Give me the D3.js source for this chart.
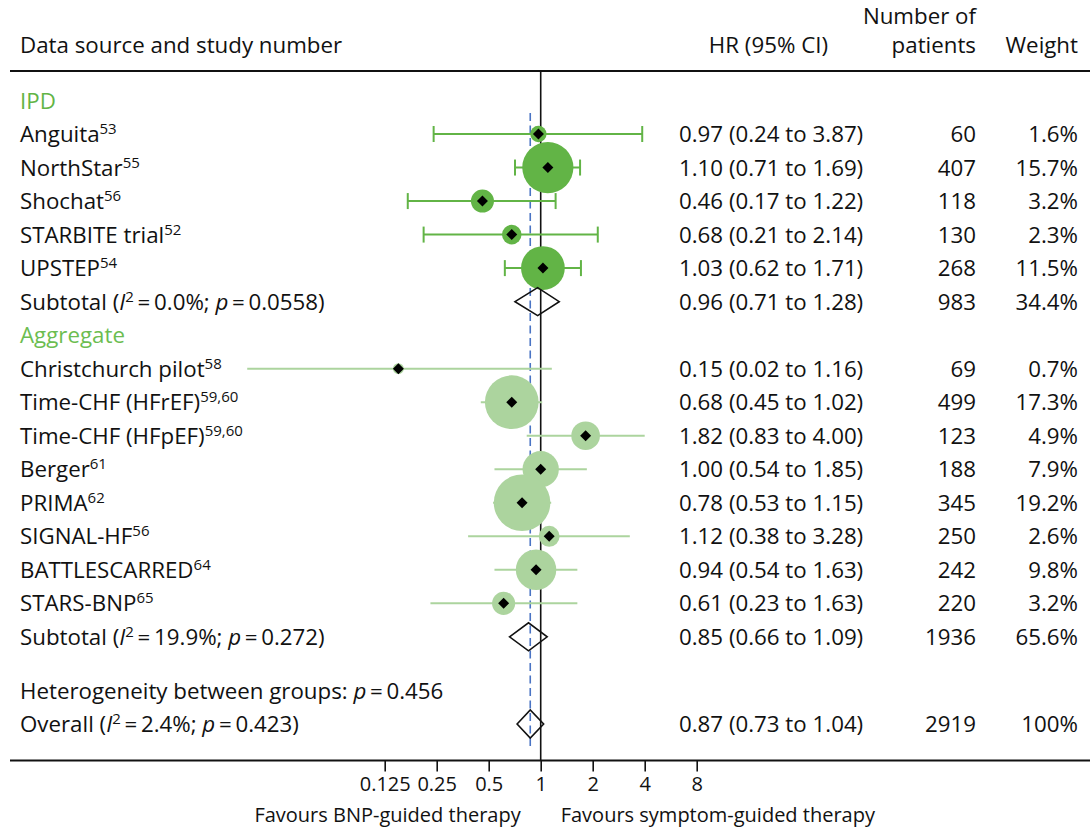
<!DOCTYPE html>
<html>
<head>
<meta charset="utf-8">
<script src="https://cdn.jsdelivr.net/npm/d3@7"></script>
<style>
  html, body { margin: 0; padding: 0; background: #fff; }
  svg text { font-family: "Open Sans", "Noto Sans", sans-serif; fill: #111; }
</style>
</head>
<body>
<svg id="chart" width="1090" height="832"></svg>
<script>
// ---- data ----
const groups = ["IPD", "Aggregate"];
const studyNames = ["Anguita", "NorthStar", "Shochat", "STARBITE trial", "UPSTEP",
  "Christchurch pilot", "Time-CHF (HFrEF)", "Time-CHF (HFpEF)", "Berger", "PRIMA",
  "SIGNAL-HF", "BATTLESCARRED", "STARS-BNP"];
const studyRefs = ["53", "55", "56", "52", "54", "58", "59,60", "59,60", "61", "62", "56", "64", "65"];
const studyGroup = [0, 0, 0, 0, 0, 1, 1, 1, 1, 1, 1, 1, 1];
const hr = [0.97, 1.10, 0.46, 0.68, 1.03, 0.15, 0.68, 1.82, 1.00, 0.78, 1.12, 0.94, 0.61];
const ciLow = [0.24, 0.71, 0.17, 0.21, 0.62, 0.02, 0.45, 0.83, 0.54, 0.53, 0.38, 0.54, 0.23];
const ciHigh = [3.87, 1.69, 1.22, 2.14, 1.71, 1.16, 1.02, 4.00, 1.85, 1.15, 3.28, 1.63, 1.63];
const patients = [60, 407, 118, 130, 268, 69, 499, 123, 188, 345, 250, 242, 220];
const weights = [1.6, 15.7, 3.2, 2.3, 11.5, 0.7, 17.3, 4.9, 7.9, 19.2, 2.6, 9.8, 3.2];

const subtotalI2 = ["0.0", "19.9"];
const subtotalP = ["0.0558", "0.272"];
const subtotalHr = [0.96, 0.85];
const subtotalLow = [0.71, 0.66];
const subtotalHigh = [1.28, 1.09];
const subtotalN = [983, 1936];
const subtotalW = [34.4, 65.6];

const heterogeneityP = "0.456";
const overallI2 = "2.4";
const overallP = "0.423";
const overallHr = 0.87, overallLow = 0.73, overallHigh = 1.04;
const overallN = 2919, overallW = 100;

const tickValues = [0.125, 0.25, 0.5, 1, 2, 4, 8];
const tickLabels = ["0.125", "0.25", "0.5", "1", "2", "4", "8"];

// ---- layout ----
const W = 1090;
const FS = 22.3, FS_SUP = 15, SUP_DY = 8;
const svg = d3.select("#chart");
const colMark = ["#62b446", "#acd49e"];
const colHead = ["#62b446", "#6cbd50"];
const fmt2 = d3.format(".2f");
const THIN = "\u2009";

// row list in reading order; slot = vertical position in row units
const rows = [];
let slot = 0;
groups.forEach((g, gi) => {
  rows.push({ kind: "group", gi, slot: slot++ });
  studyNames.forEach((n, i) => {
    if (studyGroup[i] === gi) rows.push({ kind: "study", i, gi, slot: slot++ });
  });
  rows.push({ kind: "subtotal", gi, slot: slot++ });
});
slot += 0.6;
rows.push({ kind: "het", slot: slot++ });
rows.push({ kind: "overall", slot: slot });

const y = d3.scaleLinear().domain([0, slot]).range([100.5, 724]);
const x = d3.scaleLog().base(2).domain([0.125, 8]).range([384.7, 696.7]);
const r = d3.scaleSqrt().domain([0, 19.2]).range([0, 28.3]);

const headerY = 71, axisY = 760.5;

// header
const hdr = svg.append("g").attr("font-size", FS);
hdr.append("text").attr("x", 20).attr("y", 53).text("Data source and study number");
hdr.append("text").attr("x", 828).attr("y", 53).attr("text-anchor", "end").text("HR (95% CI)");
hdr.append("text").attr("x", 976).attr("y", 23.5).attr("text-anchor", "end").text("Number of");
hdr.append("text").attr("x", 976).attr("y", 53).attr("text-anchor", "end").text("patients");
hdr.append("text").attr("x", 1078).attr("y", 53).attr("text-anchor", "end").text("Weight");
svg.append("line").attr("x1", 10).attr("x2", W).attr("y1", headerY).attr("y2", headerY)
  .attr("stroke", "#111").attr("stroke-width", 1.8);

// reference lines
svg.append("line").attr("x1", x(1)).attr("x2", x(1)).attr("y1", headerY).attr("y2", axisY)
  .attr("stroke", "#111").attr("stroke-width", 1.6);
svg.append("line").attr("x1", x(overallHr)).attr("x2", x(overallHr))
  .attr("y1", 113).attr("y2", 749)
  .attr("stroke", "#4a74c4").attr("stroke-width", 1.6).attr("stroke-dasharray", "8,4.5");

// label helpers
function labelWithSup(g, xx, yy, main, sup) {
  const t = g.append("text").attr("x", xx).attr("y", yy).attr("dy", "0.36em").attr("font-size", FS);
  t.append("tspan").text(main);
  t.append("tspan").attr("font-size", FS_SUP).attr("dy", -SUP_DY).text(sup);
  return t;
}
function statLabel(g, xx, yy, prefix, i2, p) {
  const t = g.append("text").attr("x", xx).attr("y", yy).attr("dy", "0.36em").attr("font-size", FS);
  t.append("tspan").text(prefix + " (");
  t.append("tspan").attr("font-style", "italic").text("I");
  t.append("tspan").attr("font-size", FS_SUP).attr("dy", -SUP_DY).text("2");
  t.append("tspan").attr("dy", SUP_DY).text(THIN + "=" + THIN + i2 + "%; ");
  t.append("tspan").attr("font-style", "italic").text("p");
  t.append("tspan").text(THIN + "=" + THIN + p + ")");
}
function rightCols(g, yy, txt, n, w) {
  g.append("text").attr("x", 679).attr("y", yy).attr("dy", "0.36em").attr("font-size", FS).text(txt);
  g.append("text").attr("x", 976).attr("y", yy).attr("dy", "0.36em").attr("font-size", FS)
    .attr("text-anchor", "end").text(n);
  g.append("text").attr("x", 1078).attr("y", yy).attr("dy", "0.36em").attr("font-size", FS)
    .attr("text-anchor", "end").text(w);
}
function diamond(g, lo, mid, hi, yy) {
  const h = 14;
  g.append("path")
    .attr("d", `M${x(lo)},${yy}L${x(mid)},${yy - h}L${x(hi)},${yy}L${x(mid)},${yy + h}Z`)
    .attr("fill", "none").attr("stroke", "#111").attr("stroke-width", 1.6);
}

const body = svg.append("g");
rows.forEach(row => {
  const yy = y(row.slot);
  if (row.kind === "group") {
    body.append("text").attr("x", 20).attr("y", yy).attr("dy", "0.36em").attr("font-size", FS)
      .style("fill", colHead[row.gi]).text(groups[row.gi]);
  } else if (row.kind === "study") {
    const i = row.i, c = colMark[row.gi];
    labelWithSup(body, 20, yy, studyNames[i], studyRefs[i]);
    body.append("line").attr("x1", x(ciLow[i])).attr("x2", x(ciHigh[i]))
      .attr("y1", yy).attr("y2", yy).attr("stroke", c).attr("stroke-width", 2);
    if (row.gi === 0) {
      [ciLow[i], ciHigh[i]].forEach(v => {
        body.append("line").attr("x1", x(v)).attr("x2", x(v))
          .attr("y1", yy - 8).attr("y2", yy + 8).attr("stroke", c).attr("stroke-width", 2);
      });
    }
    body.append("circle").attr("cx", x(hr[i])).attr("cy", yy).attr("r", r(weights[i])).attr("fill", c);
    const s = 5.5;
    body.append("path")
      .attr("d", `M${x(hr[i]) - s},${yy}L${x(hr[i])},${yy - s}L${x(hr[i]) + s},${yy}L${x(hr[i])},${yy + s}Z`)
      .attr("fill", "#000");
    rightCols(body, yy, `${fmt2(hr[i])} (${fmt2(ciLow[i])} to ${fmt2(ciHigh[i])})`,
      patients[i], weights[i].toFixed(1) + "%");
  } else if (row.kind === "subtotal") {
    const gi = row.gi;
    statLabel(body, 20, yy, "Subtotal", subtotalI2[gi], subtotalP[gi]);
    diamond(body, subtotalLow[gi], subtotalHr[gi], subtotalHigh[gi], yy);
    rightCols(body, yy, `${fmt2(subtotalHr[gi])} (${fmt2(subtotalLow[gi])} to ${fmt2(subtotalHigh[gi])})`,
      subtotalN[gi], subtotalW[gi].toFixed(1) + "%");
  } else if (row.kind === "het") {
    const t = body.append("text").attr("x", 20).attr("y", yy).attr("dy", "0.36em").attr("font-size", FS);
    t.append("tspan").text("Heterogeneity between groups: ");
    t.append("tspan").attr("font-style", "italic").text("p");
    t.append("tspan").text(THIN + "=" + THIN + heterogeneityP);
  } else {
    statLabel(body, 20, yy, "Overall", overallI2, overallP);
    diamond(body, overallLow, overallHr, overallHigh, yy);
    rightCols(body, yy, `${fmt2(overallHr)} (${fmt2(overallLow)} to ${fmt2(overallHigh)})`,
      overallN, overallW + "%");
  }
});

// x axis
svg.append("line").attr("x1", 10).attr("x2", W).attr("y1", axisY).attr("y2", axisY)
  .attr("stroke", "#111").attr("stroke-width", 1.8);
const axis = d3.axisBottom(x).tickValues(tickValues)
  .tickFormat((d, i) => tickLabels[i]).tickSize(11).tickPadding(5);
const ax = svg.append("g").attr("transform", `translate(0,${axisY})`).call(axis);
ax.select(".domain").remove();
ax.selectAll(".tick line").attr("stroke", "#111").attr("stroke-width", 1.6);
ax.selectAll(".tick text").attr("font-size", 20).attr("font-family", "Open Sans, Noto Sans, sans-serif")
  .style("fill", "#111");

svg.append("text").attr("x", x(1) - 20).attr("y", 822).attr("text-anchor", "end")
  .attr("font-size", 20).text("Favours BNP-guided therapy");
svg.append("text").attr("x", x(1) + 20).attr("y", 822)
  .attr("font-size", 20).text("Favours symptom-guided therapy");
</script>
</body>
</html>
